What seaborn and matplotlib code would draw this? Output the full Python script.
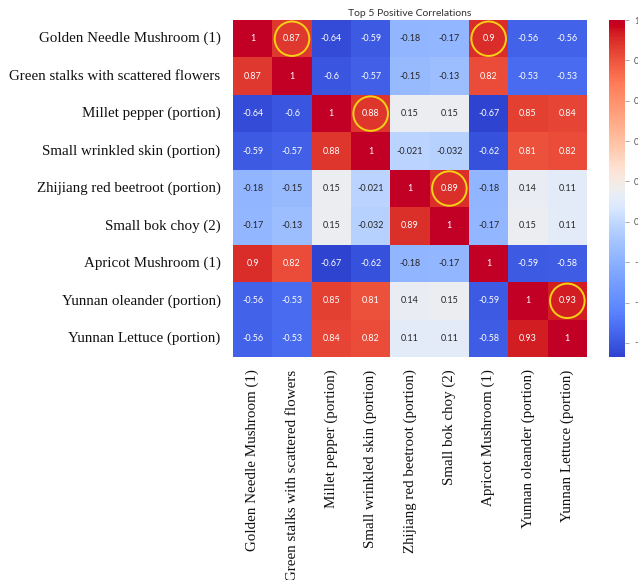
import numpy as np
import pandas as pd
import matplotlib
matplotlib.use("Agg")
import matplotlib.pyplot as plt
from matplotlib.patches import Ellipse
from matplotlib.colors import ListedColormap, rgb_to_hsv, hsv_to_rgb
import seaborn as sns

foods = [
    "Golden Needle Mushroom (1)",
    "Green stalks with scattered flowers",
    "Millet pepper (portion)",
    "Small wrinkled skin (portion)",
    "Zhijiang red beetroot (portion)",
    "Small bok choy (2)",
    "Apricot Mushroom (1)",
    "Yunnan oleander (portion)",
    "Yunnan Lettuce (portion)",
]

r0 = [1, 0.87, -0.64, -0.59, -0.18, -0.17, 0.9, -0.56, -0.56]
r1 = [0.87, 1, -0.6, -0.57, -0.15, -0.13, 0.82, -0.53, -0.53]
r2 = [-0.64, -0.6, 1, 0.88, 0.15, 0.15, -0.67, 0.85, 0.84]
r3 = [-0.59, -0.57, 0.88, 1, -0.021, -0.032, -0.62, 0.81, 0.82]
r4 = [-0.18, -0.15, 0.15, -0.021, 1, 0.89, -0.18, 0.14, 0.11]
r5 = [-0.17, -0.13, 0.15, -0.032, 0.89, 1, -0.17, 0.15, 0.11]
r6 = [0.9, 0.82, -0.67, -0.62, -0.18, -0.17, 1, -0.59, -0.58]
r7 = [-0.56, -0.53, 0.85, 0.81, 0.14, 0.15, -0.59, 1, 0.93]
r8 = [-0.56, -0.53, 0.84, 0.82, 0.11, 0.11, -0.58, 0.93, 1]

# strongest off-diagonal pairs (row, column)
top_pairs = [(0, 1), (2, 3), (4, 5), (0, 6), (7, 8)]

cbar_ticks = [1.0, 0.8, 0.6, 0.4, 0.2, 0.0, -0.2, -0.4, -0.6]

corr = pd.DataFrame([r0, r1, r2, r3, r4, r5, r6, r7, r8], index=foods, columns=foods)

# a brighter, punchier variant of coolwarm
base = plt.get_cmap("coolwarm")(np.linspace(0, 1, 256))[:, :3]
hsv = rgb_to_hsv(base)
hsv[:, 1] = np.clip(hsv[:, 1] * 1.12, 0, 1)
hsv[:, 2] = np.clip(hsv[:, 2] * 1.08, 0, 1)
vivid = ListedColormap(hsv_to_rgb(hsv), name="vivid_coolwarm")

sns.set_theme(style="white")
plt.rcParams["font.family"] = ["Lato", "DejaVu Sans"]

W, H = 638, 580
fig = plt.figure(figsize=(W / 100, H / 100), dpi=100)
ax = fig.add_axes([233 / W, 1 - 357 / H, (587 - 233) / W, (357 - 20) / H])
cax = fig.add_axes([609 / W, 1 - 357 / H, (625 - 609) / W, (357 - 20) / H])

sns.heatmap(
    corr, ax=ax, cbar_ax=cax, cmap=vivid,
    annot=True, fmt=".2g", annot_kws={"size": 6.5},
    cbar_kws={"ticks": cbar_ticks},
)

for r, c in top_pairs:
    ax.add_patch(Ellipse((c + 0.5, r + 0.5), 0.88, 0.92, fill=False,
                         edgecolor="#f5d214", linewidth=1.4, zorder=5))

ax.set_title("Top 5 Positive Correlations", fontsize=7.5, color="#333333", pad=3)
ax.tick_params(axis="both", length=3, width=0.6, color="#999999", pad=6)
ax.set_xticklabels(foods, rotation=90, fontsize=10.8, family="Liberation Serif", color="#111111")
ax.set_yticklabels(foods, rotation=0, fontsize=10.8, family="Liberation Serif", color="#111111")
cax.tick_params(length=3, width=0.6, color="#999999", labelsize=6.5, labelcolor="#555555")
for s in cax.spines.values():
    s.set_visible(False)

fig.savefig("out.png", dpi=100)
